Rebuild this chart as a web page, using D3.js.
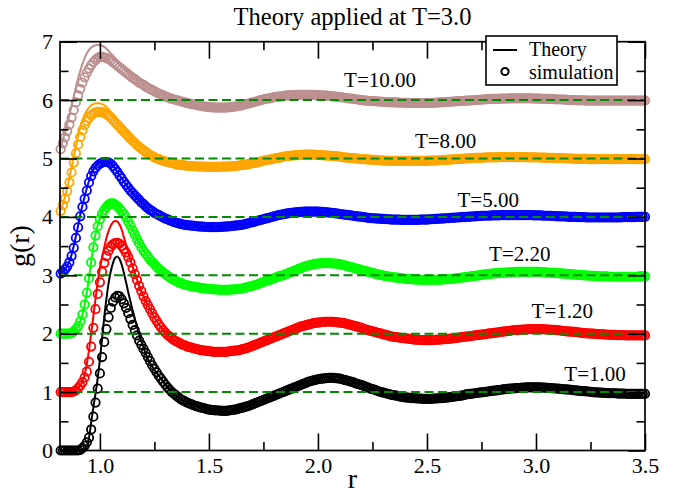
<!DOCTYPE html>
<html>
<head>
<meta charset="utf-8">
<script src="https://cdn.jsdelivr.net/npm/d3@7"></script>
<style>
  html, body { margin: 0; padding: 0; background: #fff; }
  svg text { font-family: "Liberation Serif", "Times New Roman", serif; fill: #000; }
</style>
</head>
<body>
<svg id="chart" width="674" height="496"></svg>
<script>
// Temperatures, vertical shift applied to each g(r) curve, and colours
const temps  = ["T=1.00", "T=1.20", "T=2.20", "T=5.00", "T=8.00", "T=10.00"];
const shifts = [0, 1, 2, 3, 4, 5];
const colors = ["#000000", "#ff0000", "#00ff00", "#0000ff", "#ffa500", "#bc8f8f"];

// Sampling grids in r: simulation every 0.01; theory every 0.01 up to 1.4, then every 0.1
const rSim = d3.range(82, 351).map(i => i / 100);
const rTheory = d3.range(82, 141).map(i => i / 100)
  .concat(d3.range(15, 36).map(i => i / 10));

// Simulation g(r), unshifted (one row = ten r values)
const simT100 = [
  0,0,0,0,0,0,0,0,0,0.01,
  0.04,0.08,0.14,0.22,0.36,0.58,0.82,1.06,1.32,1.60,
  1.86,2.08,2.28,2.44,2.55,2.62,2.65,2.64,2.59,2.52,
  2.44,2.35,2.25,2.15,2.06,1.97,1.88,1.81,1.74,1.67,
  1.60,1.53,1.46,1.40,1.34,1.28,1.23,1.18,1.13,1.08,
  1.04,1.00,0.97,0.94,0.91,0.88,0.86,0.84,0.82,0.805,
  0.79,0.775,0.76,0.75,0.74,0.73,0.72,0.71,0.70,0.695,
  0.69,0.687,0.685,0.682,0.68,0.68,0.68,0.684,0.69,0.695,
  0.70,0.71,0.72,0.73,0.74,0.75,0.76,0.775,0.79,0.805,
  0.82,0.835,0.85,0.865,0.88,0.895,0.91,0.925,0.94,0.955,
  0.97,0.985,1.00,1.015,1.03,1.045,1.06,1.075,1.09,1.105,
  1.12,1.135,1.15,1.165,1.18,1.19,1.20,1.21,1.22,1.225,
  1.23,1.235,1.24,1.243,1.245,1.243,1.24,1.235,1.23,1.22,
  1.21,1.20,1.19,1.18,1.17,1.155,1.14,1.13,1.12,1.105,
  1.09,1.075,1.06,1.05,1.04,1.025,1.01,1.00,0.99,0.98,
  0.97,0.96,0.95,0.945,0.94,0.93,0.92,0.915,0.91,0.905,
  0.90,0.897,0.895,0.892,0.89,0.887,0.885,0.885,0.885,0.885,
  0.885,0.887,0.89,0.892,0.895,0.897,0.90,0.905,0.91,0.915,
  0.92,0.925,0.93,0.935,0.94,0.95,0.96,0.965,0.97,0.975,
  0.98,0.985,0.99,0.995,1.00,1.005,1.01,1.015,1.02,1.025,
  1.03,1.035,1.04,1.045,1.05,1.055,1.06,1.062,1.065,1.067,
  1.07,1.072,1.075,1.077,1.08,1.08,1.08,1.08,1.08,1.08,
  1.08,1.077,1.075,1.072,1.07,1.067,1.065,1.062,1.06,1.055,
  1.05,1.047,1.045,1.042,1.04,1.035,1.03,1.025,1.02,1.017,
  1.015,1.012,1.01,1.005,1.00,0.997,0.995,0.992,0.99,0.987,
  0.985,0.982,0.98,0.98,0.98,0.977,0.975,0.975,0.975,0.972,
  0.97,0.97,0.97,0.97,0.97,0.97,0.97,0.97,0.97
];
const simT120 = [
  0,0,0,0,0,0,0.01,0.03,0.07,0.11,
  0.17,0.25,0.35,0.52,0.78,1.10,1.42,1.68,1.88,2.06,
  2.21,2.33,2.42,2.49,2.53,2.55,2.555,2.54,2.50,2.45,
  2.39,2.31,2.22,2.12,2.02,1.92,1.82,1.73,1.64,1.56,
  1.49,1.42,1.35,1.28,1.22,1.16,1.11,1.06,1.02,0.98,
  0.95,0.92,0.89,0.87,0.85,0.83,0.81,0.80,0.78,0.77,
  0.76,0.75,0.74,0.73,0.72,0.715,0.71,0.705,0.70,0.695,
  0.69,0.69,0.69,0.69,0.69,0.69,0.69,0.695,0.70,0.705,
  0.71,0.715,0.72,0.73,0.74,0.75,0.76,0.775,0.79,0.805,
  0.82,0.835,0.85,0.865,0.88,0.895,0.91,0.925,0.94,0.955,
  0.97,0.985,1.00,1.015,1.03,1.045,1.06,1.075,1.09,1.105,
  1.12,1.13,1.14,1.15,1.16,1.17,1.18,1.185,1.19,1.195,
  1.20,1.203,1.205,1.205,1.205,1.203,1.20,1.195,1.19,1.185,
  1.18,1.17,1.16,1.15,1.14,1.13,1.12,1.11,1.10,1.085,
  1.07,1.06,1.05,1.04,1.03,1.02,1.01,1.00,0.99,0.98,
  0.97,0.96,0.95,0.945,0.94,0.935,0.93,0.925,0.92,0.915,
  0.91,0.905,0.90,0.897,0.895,0.892,0.89,0.89,0.89,0.89,
  0.89,0.892,0.895,0.897,0.90,0.902,0.905,0.907,0.91,0.915,
  0.92,0.925,0.93,0.935,0.94,0.945,0.95,0.955,0.96,0.965,
  0.97,0.975,0.98,0.985,0.99,0.995,1.00,1.005,1.01,1.015,
  1.02,1.025,1.03,1.035,1.04,1.045,1.05,1.055,1.06,1.062,
  1.065,1.067,1.07,1.072,1.075,1.077,1.08,1.08,1.08,1.08,
  1.08,1.077,1.075,1.072,1.07,1.067,1.065,1.062,1.06,1.055,
  1.05,1.045,1.04,1.037,1.035,1.032,1.03,1.025,1.02,1.015,
  1.01,1.007,1.005,1.002,1.00,0.997,0.995,0.992,0.99,0.987,
  0.985,0.982,0.98,0.98,0.98,0.977,0.975,0.975,0.975,0.972,
  0.97,0.97,0.97,0.97,0.97,0.97,0.97,0.97,0.97
];
const simT220 = [
  0,0,0,0,0,0.01,0.04,0.08,0.13,0.21,
  0.33,0.50,0.70,0.95,1.22,1.48,1.68,1.84,1.96,2.05,
  2.12,2.17,2.21,2.23,2.23,2.21,2.18,2.14,2.10,2.05,
  1.99,1.92,1.85,1.77,1.70,1.62,1.55,1.48,1.42,1.37,
  1.32,1.27,1.23,1.19,1.15,1.11,1.08,1.05,1.02,0.99,
  0.97,0.94,0.92,0.90,0.88,0.87,0.85,0.84,0.83,0.82,
  0.81,0.805,0.80,0.792,0.785,0.78,0.775,0.77,0.765,0.762,
  0.76,0.757,0.755,0.752,0.75,0.75,0.75,0.752,0.755,0.757,
  0.76,0.762,0.765,0.772,0.78,0.79,0.80,0.81,0.82,0.83,
  0.84,0.855,0.87,0.885,0.90,0.91,0.92,0.935,0.95,0.965,
  0.98,0.99,1.00,1.015,1.03,1.045,1.06,1.075,1.09,1.105,
  1.12,1.135,1.15,1.16,1.17,1.18,1.19,1.195,1.20,1.205,
  1.21,1.21,1.21,1.207,1.205,1.202,1.20,1.195,1.19,1.18,
  1.17,1.16,1.15,1.14,1.13,1.12,1.11,1.10,1.09,1.08,
  1.07,1.06,1.05,1.04,1.03,1.02,1.01,1.002,0.995,0.987,
  0.98,0.975,0.97,0.965,0.96,0.955,0.95,0.945,0.94,0.937,
  0.935,0.932,0.93,0.927,0.925,0.922,0.92,0.92,0.92,0.92,
  0.92,0.92,0.92,0.922,0.925,0.927,0.93,0.932,0.935,0.937,
  0.94,0.945,0.95,0.955,0.96,0.965,0.97,0.975,0.98,0.985,
  0.99,0.995,1.00,1.005,1.01,1.015,1.02,1.025,1.03,1.032,
  1.035,1.037,1.04,1.042,1.045,1.047,1.05,1.052,1.055,1.057,
  1.06,1.06,1.06,1.06,1.06,1.06,1.06,1.06,1.06,1.057,
  1.055,1.052,1.05,1.047,1.045,1.042,1.04,1.037,1.035,1.032,
  1.03,1.027,1.025,1.022,1.02,1.015,1.01,1.007,1.005,1.002,
  1.00,0.997,0.995,0.992,0.99,0.987,0.985,0.982,0.98,0.98,
  0.98,0.977,0.975,0.975,0.975,0.975,0.975,0.975,0.975,0.975,
  0.975,0.975,0.975,0.975,0.975,0.977,0.98,0.98,0.98
];
const simT500 = [
  0.03,0.06,0.10,0.15,0.22,0.33,0.47,0.64,0.82,1.01,
  1.17,1.31,1.45,1.59,1.70,1.78,1.84,1.88,1.91,1.93,
  1.94,1.94,1.93,1.91,1.87,1.82,1.77,1.71,1.66,1.60,
  1.55,1.50,1.45,1.41,1.37,1.33,1.29,1.25,1.22,1.18,
  1.15,1.12,1.10,1.07,1.05,1.03,1.01,0.99,0.97,0.96,
  0.94,0.93,0.91,0.90,0.89,0.88,0.87,0.865,0.86,0.855,
  0.85,0.845,0.84,0.837,0.835,0.832,0.83,0.827,0.825,0.825,
  0.825,0.825,0.825,0.827,0.83,0.832,0.835,0.837,0.84,0.845,
  0.85,0.855,0.86,0.865,0.87,0.88,0.89,0.90,0.91,0.92,
  0.93,0.94,0.95,0.96,0.97,0.98,0.99,1.00,1.01,1.02,
  1.03,1.037,1.045,1.052,1.06,1.065,1.07,1.075,1.08,1.082,
  1.085,1.087,1.09,1.09,1.09,1.09,1.09,1.09,1.09,1.087,
  1.085,1.082,1.08,1.075,1.07,1.065,1.06,1.055,1.05,1.045,
  1.04,1.035,1.03,1.025,1.02,1.015,1.01,1.005,1.00,0.995,
  0.99,0.985,0.98,0.977,0.975,0.972,0.97,0.967,0.965,0.962,
  0.96,0.957,0.955,0.955,0.955,0.952,0.95,0.95,0.95,0.95,
  0.95,0.95,0.95,0.95,0.95,0.952,0.955,0.955,0.955,0.957,
  0.96,0.962,0.965,0.967,0.97,0.972,0.975,0.977,0.98,0.982,
  0.985,0.987,0.99,0.992,0.995,0.997,1.00,1.002,1.005,1.007,
  1.01,1.012,1.015,1.017,1.02,1.02,1.02,1.022,1.025,1.025,
  1.025,1.027,1.03,1.03,1.03,1.03,1.03,1.03,1.03,1.03,
  1.03,1.03,1.03,1.03,1.03,1.03,1.03,1.027,1.025,1.025,
  1.025,1.022,1.02,1.02,1.02,1.017,1.015,1.012,1.01,1.01,
  1.01,1.007,1.005,1.002,1.00,1.00,1.00,0.997,0.995,0.995,
  0.995,0.992,0.99,0.99,0.99,0.99,0.99,0.99,0.99,0.99,
  0.99,0.99,0.99,0.99,0.99,0.99,0.99,0.992,0.995,0.995,
  0.995,0.995,0.995,0.997,1.00,1.00,1.00,1.00,1.00
];
const simT800 = [
  0.10,0.20,0.31,0.44,0.59,0.76,0.93,1.09,1.24,1.37,
  1.48,1.57,1.64,1.70,1.74,1.77,1.79,1.80,1.80,1.79,
  1.78,1.76,1.73,1.70,1.66,1.62,1.58,1.54,1.50,1.46,
  1.42,1.38,1.34,1.30,1.27,1.23,1.20,1.17,1.14,1.11,
  1.09,1.06,1.04,1.02,1.00,0.99,0.97,0.96,0.95,0.94,
  0.93,0.92,0.91,0.90,0.895,0.89,0.885,0.88,0.875,0.872,
  0.87,0.867,0.865,0.862,0.86,0.86,0.86,0.857,0.855,0.855,
  0.855,0.855,0.855,0.857,0.86,0.86,0.86,0.862,0.865,0.867,
  0.87,0.875,0.88,0.885,0.89,0.895,0.90,0.91,0.92,0.925,
  0.93,0.94,0.95,0.96,0.97,0.975,0.98,0.99,1.00,1.005,
  1.01,1.02,1.03,1.035,1.04,1.045,1.05,1.052,1.055,1.057,
  1.06,1.062,1.065,1.065,1.065,1.065,1.065,1.062,1.06,1.057,
  1.055,1.052,1.05,1.047,1.045,1.042,1.04,1.035,1.03,1.025,
  1.02,1.015,1.01,1.007,1.005,1.002,1.00,0.995,0.99,0.987,
  0.985,0.982,0.98,0.977,0.975,0.972,0.97,0.967,0.965,0.962,
  0.96,0.96,0.96,0.96,0.96,0.96,0.96,0.96,0.96,0.96,
  0.96,0.96,0.96,0.96,0.96,0.96,0.96,0.96,0.96,0.962,
  0.965,0.965,0.965,0.967,0.97,0.972,0.975,0.977,0.98,0.982,
  0.985,0.987,0.99,0.992,0.995,0.997,1.00,1.002,1.005,1.007,
  1.01,1.01,1.01,1.012,1.015,1.017,1.02,1.02,1.02,1.02,
  1.02,1.022,1.025,1.025,1.025,1.025,1.025,1.025,1.025,1.025,
  1.025,1.025,1.025,1.022,1.02,1.02,1.02,1.02,1.02,1.017,
  1.015,1.015,1.015,1.012,1.01,1.01,1.01,1.007,1.005,1.005,
  1.005,1.002,1.00,1.00,1.00,0.997,0.995,0.995,0.995,0.995,
  0.995,0.992,0.99,0.99,0.99,0.99,0.99,0.99,0.99,0.99,
  0.99,0.99,0.99,0.99,0.99,0.99,0.99,0.99,0.99,0.99,
  0.99,0.99,0.99,0.99,0.99,0.99,0.99,0.99,0.99
];
const simT1000 = [
  0.16,0.26,0.36,0.47,0.58,0.70,0.83,0.96,1.08,1.19,
  1.30,1.39,1.47,1.54,1.60,1.65,1.69,1.72,1.74,1.74,
  1.73,1.72,1.70,1.68,1.65,1.62,1.59,1.56,1.53,1.50,
  1.47,1.44,1.41,1.38,1.36,1.33,1.30,1.28,1.26,1.23,
  1.21,1.19,1.17,1.15,1.13,1.11,1.10,1.08,1.06,1.05,
  1.03,1.02,1.01,1.00,0.99,0.98,0.97,0.96,0.95,0.94,
  0.93,0.925,0.92,0.91,0.90,0.895,0.89,0.885,0.88,0.877,
  0.875,0.872,0.87,0.87,0.87,0.87,0.87,0.875,0.88,0.885,
  0.89,0.895,0.90,0.91,0.92,0.93,0.94,0.95,0.96,0.97,
  0.98,0.99,1.00,1.01,1.02,1.025,1.03,1.04,1.05,1.055,
  1.06,1.065,1.07,1.075,1.08,1.082,1.085,1.087,1.09,1.09,
  1.09,1.09,1.09,1.09,1.09,1.09,1.09,1.087,1.085,1.082,
  1.08,1.077,1.075,1.072,1.07,1.065,1.06,1.055,1.05,1.045,
  1.04,1.035,1.03,1.025,1.02,1.015,1.01,1.005,1.00,0.995,
  0.99,0.987,0.985,0.982,0.98,0.977,0.975,0.972,0.97,0.967,
  0.965,0.962,0.96,0.96,0.96,0.957,0.955,0.955,0.955,0.952,
  0.95,0.95,0.95,0.95,0.95,0.95,0.95,0.95,0.95,0.95,
  0.95,0.952,0.955,0.957,0.96,0.962,0.965,0.967,0.97,0.972,
  0.975,0.977,0.98,0.982,0.985,0.987,0.99,0.992,0.995,0.997,
  1.00,1.002,1.005,1.007,1.01,1.012,1.015,1.017,1.02,1.02,
  1.02,1.022,1.025,1.025,1.025,1.027,1.03,1.03,1.03,1.03,
  1.03,1.03,1.03,1.03,1.03,1.03,1.03,1.027,1.025,1.025,
  1.025,1.022,1.02,1.02,1.02,1.017,1.015,1.012,1.01,1.01,
  1.01,1.007,1.005,1.002,1.00,1.00,1.00,0.997,0.995,0.995,
  0.995,0.992,0.99,0.99,0.99,0.99,0.99,0.99,0.99,0.99,
  0.99,0.99,0.99,0.99,0.99,0.99,0.99,0.99,0.99,0.99,
  0.99,0.99,0.99,0.99,0.99,0.99,0.99,0.99,0.99
];

// Theory g(r), unshifted (closure fitted at T=3.0)
const thT100 = [
  0,0,0,0,0,0,0,0,0,0.003,
  0.01,0.03,0.08,0.22,0.48,0.74,0.98,1.24,1.55,1.92,
  2.28,2.60,2.87,3.07,3.21,3.30,3.32,3.28,3.18,3.04,
  2.88,2.71,2.55,2.40,2.26,2.12,1.99,1.87,1.76,1.66,
  1.57,1.50,1.44,1.38,1.33,1.28,1.23,1.18,1.13,1.08,
  1.04,1.00,0.97,0.94,0.91,0.88,0.86,0.84,0.82,
  0.70,0.69,0.79,0.94,1.10,1.24,1.26,1.13,0.99,0.91,
  0.885,0.91,0.97,1.02,1.065,1.08,1.06,1.02,0.99,0.975,0.97
];
const thT120 = [
  0,0,0,0,0,0.01,0.02,0.04,0.07,0.11,
  0.18,0.30,0.48,0.72,1.00,1.30,1.60,1.88,2.12,2.30,
  2.48,2.64,2.76,2.85,2.91,2.93,2.92,2.87,2.78,2.65,
  2.52,2.40,2.27,2.15,2.04,1.93,1.82,1.73,1.64,1.56,
  1.49,1.42,1.35,1.28,1.22,1.16,1.11,1.06,1.02,0.98,
  0.95,0.92,0.89,0.87,0.85,0.83,0.81,0.80,0.78,
  0.70,0.70,0.79,0.94,1.09,1.20,1.19,1.10,0.99,0.92,
  0.89,0.91,0.96,1.01,1.06,1.08,1.06,1.02,0.99,0.975,0.97
];
const thT220 = [
  0,0,0,0,0,0.01,0.04,0.08,0.13,0.21,
  0.33,0.50,0.71,0.96,1.23,1.49,1.70,1.86,1.98,2.07,
  2.14,2.19,2.23,2.25,2.25,2.23,2.20,2.15,2.10,2.05,
  1.99,1.92,1.85,1.77,1.70,1.62,1.55,1.48,1.42,1.37,
  1.32,1.27,1.23,1.19,1.15,1.11,1.08,1.05,1.02,0.99,
  0.97,0.94,0.92,0.90,0.88,0.87,0.85,0.84,0.83,
  0.765,0.755,0.82,0.95,1.09,1.20,1.19,1.09,0.995,0.94,
  0.92,0.935,0.98,1.03,1.055,1.06,1.035,1.005,0.98,0.975,0.98
];
const thT500 = [
  0.03,0.06,0.10,0.16,0.24,0.35,0.50,0.67,0.85,1.04,
  1.20,1.35,1.49,1.62,1.73,1.81,1.87,1.91,1.94,1.95,
  1.955,1.95,1.94,1.92,1.88,1.83,1.77,1.71,1.66,1.60,
  1.55,1.50,1.45,1.41,1.37,1.33,1.29,1.25,1.22,1.18,
  1.15,1.12,1.10,1.07,1.05,1.03,1.01,0.99,0.97,0.96,
  0.94,0.93,0.91,0.90,0.89,0.88,0.87,0.865,0.86,
  0.825,0.84,0.91,1.01,1.08,1.09,1.05,1.00,0.965,0.95,
  0.955,0.98,1.005,1.025,1.03,1.025,1.01,0.995,0.99,0.99,1.00
];
const thT800 = [
  0.12,0.22,0.35,0.50,0.67,0.85,1.03,1.21,1.38,1.53,
  1.65,1.75,1.82,1.87,1.91,1.93,1.94,1.945,1.94,1.93,
  1.91,1.88,1.84,1.80,1.75,1.70,1.65,1.60,1.55,1.50,
  1.45,1.40,1.36,1.32,1.28,1.24,1.21,1.18,1.15,1.12,
  1.09,1.07,1.05,1.03,1.01,0.99,0.975,0.96,0.95,0.94,
  0.93,0.92,0.91,0.90,0.895,0.89,0.885,0.88,0.875,
  0.855,0.865,0.92,1.00,1.055,1.06,1.03,0.99,0.96,0.96,
  0.96,0.98,1.005,1.02,1.025,1.02,1.01,0.995,0.99,0.99,0.99
];
const thT1000 = [
  0.20,0.32,0.45,0.59,0.74,0.90,1.06,1.22,1.37,1.50,
  1.62,1.72,1.80,1.86,1.90,1.925,1.94,1.945,1.94,1.93,
  1.91,1.88,1.84,1.80,1.76,1.72,1.67,1.63,1.58,1.54,
  1.50,1.46,1.42,1.39,1.36,1.33,1.30,1.28,1.26,1.23,
  1.21,1.19,1.17,1.15,1.13,1.11,1.10,1.08,1.06,1.05,
  1.03,1.02,1.01,1.00,0.99,0.98,0.97,0.96,0.95,
  0.88,0.875,0.96,1.05,1.09,1.085,1.05,1.00,0.965,0.955,
  0.95,0.97,1.00,1.02,1.03,1.025,1.01,0.995,0.99,0.99,0.99
];

const simSets = [simT100, simT120, simT220, simT500, simT800, simT1000];
const theorySets = [thT100, thT120, thT220, thT500, thT800, thT1000];

// Where each temperature label sits, in (r, g) units
const labelAt = [[3.13, 1.19], [2.98, 2.27], [2.785, 3.245], [2.64, 4.17], [2.445, 5.18], [2.12, 6.22]];

// Axis ticks
const xMajor = [1.0, 1.5, 2.0, 2.5, 3.0, 3.5];
const xMinor = [1.25, 1.75, 2.25, 2.75, 3.25];
const yMajor = [0, 1, 2, 3, 4, 5, 6, 7];
const yMinor = [0.5, 1.5, 2.5, 3.5, 4.5, 5.5, 6.5];

const svg = d3.select("#chart");
const x = d3.scaleLinear().domain([0.817, 3.5]).range([60, 645]);
const y = d3.scaleLinear().domain([0, 7]).range([450.5, 41.7]);
const [x0, x1] = x.range();
const [y0, y1] = y.range();

const plot = svg.append("g");
const line = d3.line().x(d => x(d[0])).y(d => y(d[1])).curve(d3.curveCatmullRom.alpha(0.5));

// symbols and theory curves, one temperature at a time
simSets.forEach((set, k) => {
  const n = Math.min(set.length, rSim.length);
  const pts = rSim.slice(0, n).map((r, i) => [r, set[i] + shifts[k]]);
  plot.append("g").selectAll("circle").data(pts).join("circle")
    .attr("cx", d => x(d[0])).attr("cy", d => y(d[1]))
    .attr("r", 4.2).attr("fill", "none")
    .attr("stroke", colors[k]).attr("stroke-width", 1.8);
  plot.append("path")
    .datum(rTheory.map((r, i) => [r, theorySets[k][i] + shifts[k]]))
    .attr("d", line).attr("fill", "none")
    .attr("stroke", colors[k]).attr("stroke-width", 2);
});

// g = 1 reference for each shifted curve
plot.append("g").selectAll("line").data(shifts).join("line")
  .attr("x1", x0).attr("x2", x1)
  .attr("y1", d => y(d + 1)).attr("y2", d => y(d + 1))
  .attr("stroke", "#008b00").attr("stroke-width", 2)
  .attr("stroke-dasharray", "9,4.5");

// frame with inward ticks on all four sides
function styleAxis(g) {
  g.select(".domain").remove();
  g.selectAll(".tick line").attr("stroke", "#000").attr("stroke-width", 1.6);
  g.selectAll("text").attr("font-size", 22).attr("fill", "#000");
}
svg.append("g").attr("transform", `translate(0,${y0})`)
  .call(d3.axisBottom(x).tickValues(xMajor).tickFormat(d3.format(".1f")).tickSize(-17).tickPadding(7))
  .call(styleAxis);
svg.append("g").attr("transform", `translate(0,${y0})`)
  .call(d3.axisBottom(x).tickValues(xMinor).tickFormat("").tickSize(-8.5)).call(styleAxis);
svg.append("g").attr("transform", `translate(0,${y1})`)
  .call(d3.axisTop(x).tickValues(xMajor).tickFormat("").tickSize(-17)).call(styleAxis);
svg.append("g").attr("transform", `translate(0,${y1})`)
  .call(d3.axisTop(x).tickValues(xMinor).tickFormat("").tickSize(-8.5)).call(styleAxis);
svg.append("g").attr("transform", `translate(${x0},0)`)
  .call(d3.axisLeft(y).tickValues(yMajor).tickFormat(d3.format("d")).tickSize(-17).tickPadding(7))
  .call(styleAxis);
svg.append("g").attr("transform", `translate(${x0},0)`)
  .call(d3.axisLeft(y).tickValues(yMinor).tickFormat("").tickSize(-8.5)).call(styleAxis);
svg.append("g").attr("transform", `translate(${x1},0)`)
  .call(d3.axisRight(y).tickValues(yMajor).tickFormat("").tickSize(-17)).call(styleAxis);
svg.append("g").attr("transform", `translate(${x1},0)`)
  .call(d3.axisRight(y).tickValues(yMinor).tickFormat("").tickSize(-8.5)).call(styleAxis);
svg.append("rect").attr("x", x0).attr("y", y1).attr("width", x1 - x0).attr("height", y0 - y1)
  .attr("fill", "none").attr("stroke", "#000").attr("stroke-width", 1.7);

// temperature labels
svg.append("g").selectAll("text").data(temps).join("text")
  .attr("x", (d, i) => x(labelAt[i][0])).attr("y", (d, i) => y(labelAt[i][1]))
  .attr("font-size", 21).text(d => d);

// titles
svg.append("text").attr("x", (x0 + x1) / 2).attr("y", 25).attr("text-anchor", "middle")
  .attr("font-size", 24.5).text("Theory applied at T=3.0");
svg.append("text").attr("x", (x0 + x1) / 2).attr("y", 488).attr("text-anchor", "middle")
  .attr("font-size", 28).text("r");
svg.append("text").attr("transform", `translate(29,${(y0 + y1) / 2}) rotate(-90)`)
  .attr("text-anchor", "middle").attr("font-size", 28).text("g(r)");

// legend
const lg = svg.append("g");
lg.append("rect").attr("x", 486).attr("y", 36).attr("width", 131).attr("height", 49)
  .attr("fill", "#fff").attr("stroke", "#000").attr("stroke-width", 1.6);
lg.append("line").attr("x1", 493).attr("x2", 517).attr("y1", 50).attr("y2", 50)
  .attr("stroke", "#000").attr("stroke-width", 2);
lg.append("circle").attr("cx", 505).attr("cy", 71.5).attr("r", 3.6)
  .attr("fill", "none").attr("stroke", "#000").attr("stroke-width", 2);
lg.append("text").attr("x", 529).attr("y", 56).attr("font-size", 20).text("Theory");
lg.append("text").attr("x", 529).attr("y", 79).attr("font-size", 20).text("simulation");
</script>
</body>
</html>
